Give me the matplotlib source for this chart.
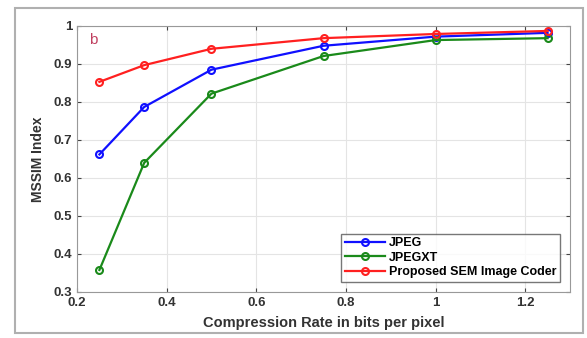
import matplotlib
matplotlib.use("Agg")
import matplotlib.pyplot as plt
from matplotlib.patches import Rectangle

rate = [0.25, 0.35, 0.5, 0.75, 1.0, 1.25]
jpeg = [0.662, 0.787, 0.885, 0.948, 0.972, 0.982]
jpegxt = [0.358, 0.640, 0.822, 0.921, 0.963, 0.968]
proposed = [0.853, 0.897, 0.940, 0.968, 0.979, 0.987]
labels = ["JPEG", "JPEGXT", "Proposed SEM Image Coder"]

plt.rcParams['font.family'] = ['Liberation Sans', 'DejaVu Sans']
plt.rcParams['font.weight'] = 'bold'

fig = plt.figure(figsize=(5.87, 3.38), dpi=100)
fig.patches.append(Rectangle((15/587, 1-333/338), 568/587, 325/338, transform=fig.transFigure,
                             fill=False, edgecolor='#b0b0b0', linewidth=1.5))
ax = fig.add_axes([77/587, 1-292/338, 493/587, 266/338])

for y, c, l in zip([jpeg, jpegxt, proposed], ['#1010ff', '#1a8a1a', '#ff2020'], labels):
    ax.plot(rate, y, '-o', color=c, lw=1.6, ms=5, mfc='none', mew=1.5, label=l)

ax.set_xlim(0.2, 1.3)
ax.set_ylim(0.3, 1.0)
ax.set_xticks([0.2, 0.4, 0.6, 0.8, 1.0, 1.2])
ax.set_xticklabels(['0.2', '0.4', '0.6', '0.8', '1', '1.2'])
ax.set_yticks([0.3, 0.4, 0.5, 0.6, 0.7, 0.8, 0.9, 1.0])
ax.set_yticklabels(['0.3', '0.4', '0.5', '0.6', '0.7', '0.8', '0.9', '1'])
ax.grid(True, color='#e4e4e4', lw=0.8)
ax.tick_params(direction='in', top=True, right=True, labelsize=9.5, colors='#444444', length=3)
for lab in ax.get_xticklabels() + ax.get_yticklabels():
    lab.set_color('#333333')
for s in ax.spines.values():
    s.set_color('#999999')
ax.set_xlabel('Compression Rate in bits per pixel', fontsize=10.5, fontweight='bold', color='#333333', labelpad=5)
ax.set_ylabel('MSSIM Index', fontsize=10, fontweight='bold', color='#333333', labelpad=6)
ax.text(0.226, 0.953, 'b', color='#c04060', fontsize=11, fontweight='normal')
leg = ax.legend(loc='lower right', fontsize=9, frameon=True, fancybox=False, borderpad=0.3,
                labelspacing=0.2, handlelength=3.2, handletextpad=0.3, borderaxespad=0.8)
leg.get_frame().set_edgecolor('#555555')
leg.get_frame().set_linewidth(1.0)
fig.savefig('out.png', dpi=100)
